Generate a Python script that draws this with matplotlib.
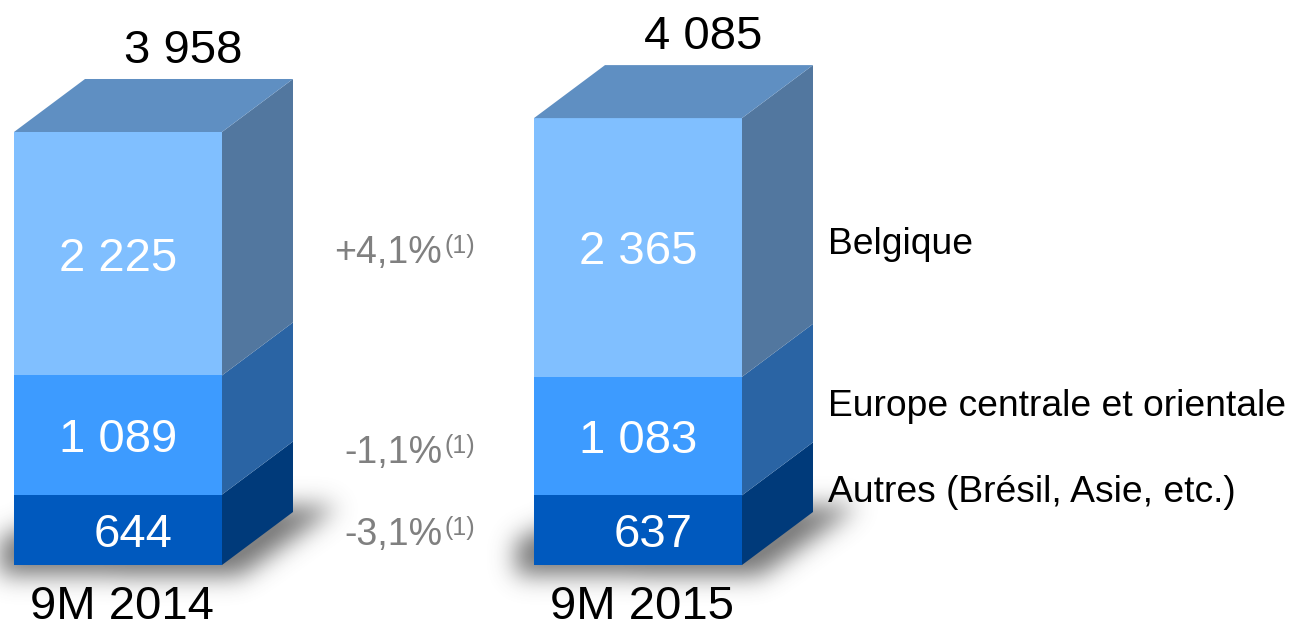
import numpy as np
import matplotlib
matplotlib.use("Agg")
import matplotlib.pyplot as plt
from matplotlib.patches import Polygon
from matplotlib.path import Path

# ---- data ----
periods = ["9M 2014", "9M 2015"]
segments = ["Autres (Brésil, Asie, etc.)", "Europe centrale et orientale", "Belgique"]
autres = [644, 637]
europe = [1089, 1083]
belgique = [2225, 2365]
totals = ["3 958", "4 085"]
seg_labels = [["644", "1 089", "2 225"], ["637", "1 083", "2 365"]]
growth = ["-3,1%", "-1,1%", "+4,1%"]
growth_note = "(1)"

plt.rcParams['font.family'] = ['Liberation Sans', 'DejaVu Sans']

W, H = 1290, 628
fig = plt.figure(figsize=(W / 100, H / 100), dpi=100)
ax = fig.add_axes([0, 0, 1, 1])
ax.set_axis_off()

# layout (pixels)
base_px = 565
k = 0.1094  # px per unit
ylim = (-(H - base_px) / k, base_px / k)
ax.set_xlim(0, W)
ax.set_ylim(*ylim)

def py(p):
    return (base_px - p) / k

bar_x0 = [14, 534]
bar_w = 208
dx = 71
dy = 53 / k

front_cols = ["#0059BE", "#3D9BFF", "#80BFFF"]
side_cols = ["#003A7A", "#2A64A4", "#52779F"]
top_col = "#5F8FC2"

# ---- soft shadow ----
gx, gy = np.meshgrid(np.arange(W) + 0.5, np.arange(H) + 0.5)
pts = np.column_stack([gx.ravel(), gy.ravel()])
mask = np.zeros(H * W)
for x0 in bar_x0:
    poly = [(x0 - 18, 540), (x0 + dx, 505), (x0 + bar_w + dx + 45, 506),
            (x0 + bar_w + 18, 576), (x0 - 18, 575)]
    mask = np.maximum(mask, Path(poly).contains_points(pts).astype(float))
mask = mask.reshape(H, W)
sig = 12
r = np.arange(-3 * sig, 3 * sig + 1)
kern = np.exp(-r ** 2 / (2 * sig ** 2))
kern /= kern.sum()
blur = np.apply_along_axis(lambda m: np.convolve(m, kern, mode='same'), 1, mask)
blur = np.apply_along_axis(lambda m: np.convolve(m, kern, mode='same'), 0, blur)
img = np.zeros((H, W, 4))
img[..., :3] = 0.3
img[..., 3] = np.clip(blur * 1.1, 0, 1) * 0.7
ax.imshow(img, extent=(0, W, ylim[0], ylim[1]), origin='upper', aspect='auto', zorder=1, interpolation='bilinear')

# ---- bars ----
for i, x0 in enumerate(bar_x0):
    vals = [autres[i], europe[i], belgique[i]]
    bottom = 0
    for j, v in enumerate(vals):
        top = bottom + v
        ax.add_patch(Polygon([(x0, bottom), (x0 + bar_w, bottom), (x0 + bar_w, top), (x0, top)],
                             closed=True, facecolor=front_cols[j], edgecolor='none', zorder=3))
        ax.add_patch(Polygon([(x0 + bar_w, bottom), (x0 + bar_w + dx, bottom + dy),
                              (x0 + bar_w + dx, top + dy), (x0 + bar_w, top)],
                             closed=True, facecolor=side_cols[j], edgecolor='none', zorder=3))
        xoff = 15 if j == 0 else 0
        ax.text(x0 + bar_w / 2 + xoff, (bottom + top) / 2 - 5 / k, seg_labels[i][j], color='white',
                fontsize=34, ha='center', va='center', zorder=5)
        bottom = top
    T = bottom
    ax.add_patch(Polygon([(x0, T), (x0 + bar_w, T), (x0 + bar_w + dx, T + dy), (x0 + dx, T + dy)],
                         closed=True, facecolor=top_col, edgecolor='none', zorder=3))
    ax.text(x0 + 169, T + dy + 28 / k, totals[i], fontsize=34, ha='center', va='center', color='black', zorder=5)
    ax.text(x0 + bar_w / 2 + 4, py(607), periods[i], fontsize=34, ha='center', va='center', color='black', zorder=5)

# ---- growth labels ----
g_base = [545, 463, 263]
for g, b in zip(growth, g_base):
    ax.text(442, py(b), g, fontsize=27, color='#808080', ha='right', va='baseline', zorder=5)
    ax.text(444, py(b - 10), growth_note, fontsize=18, color='#808080', ha='left', va='baseline', zorder=5)

# ---- legend labels ----
leg_y = [493, 406, 245]
for s, yy in zip(segments, leg_y):
    ax.text(828, py(yy), s, fontsize=26.8, color='black', ha='left', va='center', zorder=5)

fig.savefig("out.png", dpi=100)
